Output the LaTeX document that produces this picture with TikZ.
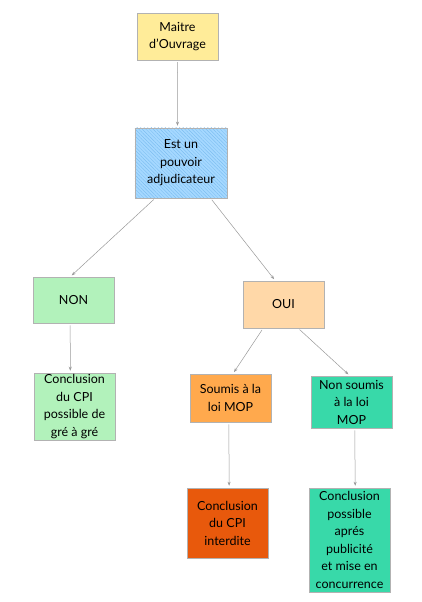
\documentclass[tikz,border=0pt]{standalone}
\usepackage{fontspec}
\setmainfont{Lato}
\usetikzlibrary{arrows.meta,calc,patterns.meta}
\definecolor{cyellow}{HTML}{FFEC99}
\definecolor{cblue}{HTML}{A5D8FF}
\definecolor{cbluel}{HTML}{74B8EE}
\definecolor{cgreen}{HTML}{B2F2BB}
\definecolor{cpeach}{HTML}{FFD8A8}
\definecolor{corange}{HTML}{FFA94D}
\definecolor{cteal}{HTML}{38D9A9}
\definecolor{cred}{HTML}{E8590C}
\tikzset{
  box/.style={draw=black!30, line width=0.5pt, rectangle, align=center,
    inner sep=1pt, font=\fontsize{12.5}{17.5}\selectfont, text=black},
  conn/.style={draw=black!40, line width=0.5pt, -{Stealth[length=4pt,width=3pt]},
    shorten <=2pt, shorten >=2pt}
}
\begin{document}
\begin{tikzpicture}[x=1pt,y=-1pt]
\useasboundingbox (0,0) rectangle (422,602);
\node[box, fill=cyellow, minimum width=81pt, minimum height=47pt] (b1) at (177.5,36.5) {Maitre\\d'Ouvrage};
\node[box, fill=cblue, minimum width=92pt, minimum height=70pt] (b2) at (181,163) {};
\fill[pattern={Lines[angle=-45,distance=2.5pt,line width=0.3pt]}, pattern color=cbluel] (b2.north west) rectangle (b2.south east);
\node[box, minimum width=92pt, minimum height=70pt] (b2t) at (181,163) {Est un\\pouvoir\\adjudicateur};
\node[box, fill=cgreen, minimum width=81pt, minimum height=46pt] (non) at (73.5,300) {NON};
\node[box, fill=cgreen, minimum width=81pt, minimum height=67pt] (gre) at (74.5,406.5) {Conclusion\\du CPI\\possible de\\gré à gré};
\node[box, fill=cpeach, minimum width=81pt, minimum height=47pt] (oui) at (283.5,304.5) {OUI};
\node[box, fill=corange, minimum width=81pt, minimum height=48pt] (sou) at (230.5,398) {Soumis à la\\loi MOP};
\node[box, fill=cteal, minimum width=81pt, minimum height=52pt] (nsou) at (351.5,402) {Non soumis\\à la loi\\MOP};
\node[box, fill=cred, minimum width=81pt, minimum height=70pt] (int) at (227.5,523) {Conclusion\\du CPI\\interdite};
\node[box, fill=cteal, minimum width=81pt, minimum height=104pt] (pos) at (349.5,540) {Conclusion\\possible\\aprés\\publicité\\et mise en\\concurrence};

\draw[conn] (b1.south) -- ($(b2.north west)!0.462!(b2.north east)$);
\draw[conn] ($(b2.south west)!0.22!(b2.south east)$) -- ($(non.north west)!0.46!(non.north east)$);
\draw[conn] ($(b2.south west)!0.82!(b2.south east)$) -- ($(oui.north west)!0.40!(oui.north east)$);
\draw[conn] ($(non.south west)!0.46!(non.south east)$) -- ($(gre.north west)!0.448!(gre.north east)$);
\draw[conn] ($(oui.south west)!0.25!(oui.south east)$) -- ($(sou.north west)!0.53!(sou.north east)$);
\draw[conn] ($(oui.south west)!0.68!(oui.south east)$) -- ($(nsou.north west)!0.48!(nsou.north east)$);
\draw[conn] ($(sou.south west)!0.48!(sou.south east)$) -- ($(int.north west)!0.52!(int.north east)$);
\draw[conn] ($(nsou.south west)!0.54!(nsou.south east)$) -- ($(pos.north west)!0.57!(pos.north east)$);
\end{tikzpicture}
\end{document}
